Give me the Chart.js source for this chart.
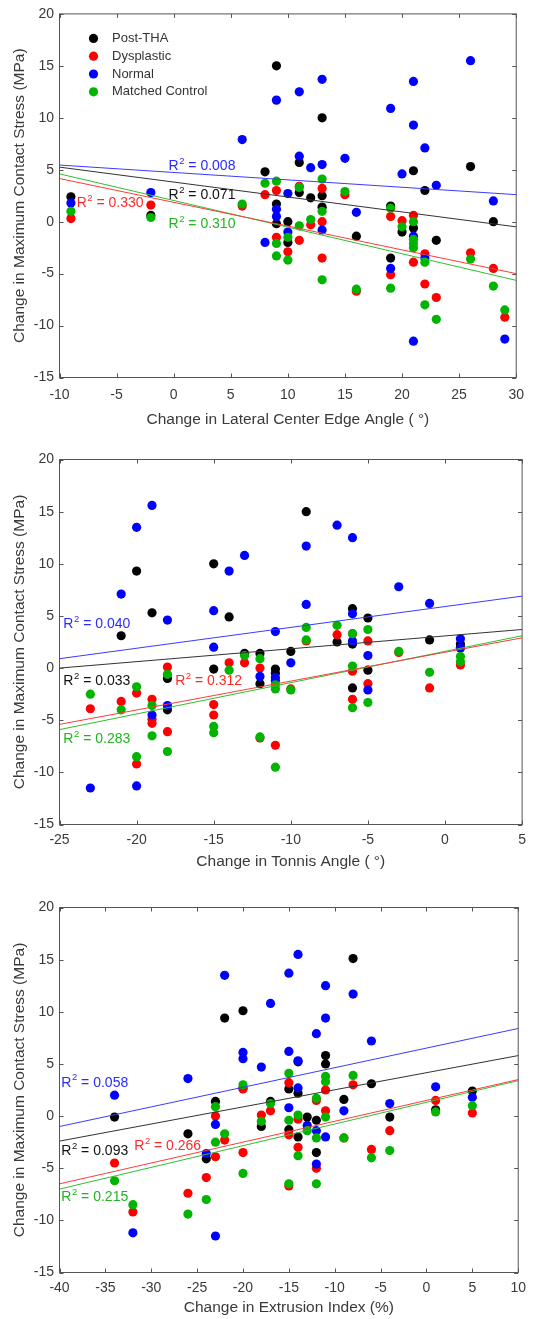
<!DOCTYPE html>
<html>
<head>
<meta charset="utf-8">
<script src="https://cdn.jsdelivr.net/npm/chart.js@4"></script>
<style>
  body { margin: 0; background: #fff; }
  #wrap { position: relative; width: 533px; height: 1319px; }
  canvas { position: absolute; left: 0; }
</style>
</head>
<body>
<div id="wrap">
  <canvas id="lceaChart" width="533" height="440" style="top:0px"></canvas>
  <canvas id="tonnisChart" width="533" height="440" style="top:440px"></canvas>
  <canvas id="extrusionChart" width="533" height="439" style="top:880px"></canvas>
</div>
<script>
Chart.defaults.font.family = '"Liberation Sans", Arial, sans-serif'
Chart.defaults.color = '#3a3a3a'

const groups = ['Post-THA', 'Dysplastic', 'Normal', 'Matched Control']
const groupColors = ['#000000', '#ff0000', '#0000ff', '#00b400']
const fitColors = ['#333333', '#ff3b3b', '#3b3bff', '#2fbf2f']
const textColors = ['#111111', '#ff2a2a', '#2a2aff', '#1fb51f']

const stressTicks = [-15, -10, -5, 0, 5, 10, 15, 20]
const lceaTicks = [-10, -5, 0, 5, 10, 15, 20, 25, 30]
const tonnisTicks = [-25, -20, -15, -10, -5, 0, 5]
const extrusionTicks = [-40, -35, -30, -25, -20, -15, -10, -5, 0, 5, 10]

// change in LCEA vs change in max contact stress
const lceaPostTHA = [[-9, 2.4], [-2, 0.6], [8, 4.8], [9, 15.0], [9, 1.7], [9, -0.2], [10, 0.0], [10, -2.0], [11, 5.7], [11, 2.8], [12, 2.3], [13, 10.0], [13, 2.5], [13, 1.4], [16, -1.4], [19, 1.5], [19, -3.5], [20, -1.0], [21, 4.9], [21, -0.6], [22, 3.0], [23, -1.8], [26, 5.3], [28, 0.0]]
const lceaDysplastic = [[-9, 0.3], [-2, 1.6], [6, 1.5], [8, 2.6], [9, 3.0], [9, -1.5], [10, -2.9], [11, 3.4], [11, -1.8], [12, -0.3], [13, 3.2], [13, 0.0], [13, -3.5], [15, 2.6], [16, -6.7], [19, 0.5], [19, -5.1], [20, 0.1], [21, 0.6], [21, -3.9], [22, -3.1], [22, -6.0], [23, -7.3], [26, -3.0], [28, -4.5], [29, -9.2]]
const lceaNormal = [[-9, 1.8], [-2, 2.8], [6, 7.9], [8, -2.0], [9, 11.7], [9, 1.2], [9, 0.5], [10, 2.7], [10, -1.0], [11, 12.5], [11, 6.3], [12, 5.2], [13, 13.7], [13, 5.5], [13, -0.8], [15, 6.1], [16, 0.9], [19, 10.9], [19, -4.5], [20, 4.6], [21, 13.5], [21, 9.3], [21, -1.4], [21, -11.5], [22, 7.1], [22, -3.5], [23, 3.5], [26, 15.5], [28, 2.0], [29, -11.3]]
const lceaMatched = [[-9, 1.0], [-2, 0.4], [6, 1.7], [8, 3.7], [9, 3.9], [9, -2.1], [9, -3.3], [10, -1.5], [10, -3.7], [11, 3.3], [11, -0.4], [12, 0.2], [13, 4.1], [13, 1.0], [13, -5.6], [15, 2.9], [16, -6.5], [19, 1.3], [19, -6.4], [20, -0.5], [21, 0.0], [21, -1.7], [21, -2.1], [21, -2.5], [22, -3.9], [22, -8.0], [23, -9.4], [26, -3.6], [28, -6.2], [29, -8.5]]
const lceaFits = [[5.25, -0.5], [4.15, -5.0], [5.45, 2.6], [4.6, -5.65]]
const lceaR2 = ['0.071', '0.330', '0.008', '0.310']

// change in Tonnis angle
const tonnisPostTHA = [[-21, 3.1], [-20, 9.3], [-19, 5.3], [-18, -1.0], [-18, -4.0], [-15, 10.0], [-15, -0.1], [-14, 4.9], [-13, 1.4], [-12, 1.4], [-12, -1.5], [-11, -0.1], [-11, -0.5], [-10, 1.6], [-9, 15.0], [-7, 2.5], [-6, 5.7], [-6, 2.3], [-6, -1.9], [-5, 4.8], [-5, -0.2], [-1, 2.7], [1, 2.3], [1, 2.0]]
const tonnisDysplastic = [[-23, -3.9], [-21, -3.2], [-20, -2.4], [-20, -9.2], [-19, -3.0], [-19, -4.9], [-19, -5.3], [-18, 0.1], [-18, -6.1], [-15, -3.5], [-15, -4.5], [-14, 0.5], [-13, 0.5], [-12, 0.0], [-12, -6.7], [-11, -7.4], [-10, -2.0], [-9, 2.6], [-7, 3.2], [-6, 3.3], [-6, -0.3], [-6, -3.0], [-5, 2.6], [-5, -1.5], [-3, 1.5], [-1, -1.9], [1, 0.3]]
const tonnisNormal = [[-23, -11.5], [-21, 7.1], [-20, 13.5], [-20, -11.3], [-19, 15.6], [-19, -4.5], [-18, 4.6], [-18, -3.6], [-15, 5.5], [-15, 2.0], [-14, 9.3], [-13, 10.8], [-12, -0.8], [-11, 3.5], [-11, -0.9], [-11, -1.2], [-10, 0.5], [-9, 11.7], [-9, 6.1], [-7, 13.7], [-6, 12.5], [-6, 5.2], [-6, 2.6], [-5, 1.2], [-5, -2.1], [-3, 7.8], [-1, 6.2], [1, 2.8], [1, 1.9]]
const tonnisMatched = [[-23, -2.5], [-21, -4.0], [-20, -1.8], [-20, -8.5], [-19, -3.6], [-19, -6.5], [-18, -0.6], [-18, -8.0], [-15, -5.6], [-15, -6.2], [-14, -0.2], [-13, 1.2], [-12, 0.9], [-12, -6.6], [-11, -1.6], [-11, -2.0], [-11, -9.5], [-10, -2.1], [-9, 3.9], [-9, 2.7], [-7, 4.1], [-6, 3.3], [-6, 0.2], [-6, -3.8], [-5, 3.7], [-5, -3.3], [-3, 1.6], [-1, -0.4], [1, 1.1], [1, 0.6]]
const tonnisFits = [[0.0, 3.7], [-5.4, 2.9], [0.9, 6.9], [-5.9, 3.1]]
const tonnisR2 = ['0.033', '0.312', '0.040', '0.283']

// change in extrusion index
const extrusionPostTHA = [[-34, -0.1], [-26, -1.7], [-24, -4.1], [-23, 1.4], [-22, 9.4], [-20, 10.1], [-20, 2.7], [-18, -1.0], [-17, 1.4], [-15, 2.6], [-15, -1.3], [-14, 5.2], [-14, 2.2], [-14, -2.0], [-13, -0.1], [-12, -0.4], [-12, -3.5], [-11, 5.8], [-11, 5.0], [-9, 1.6], [-8, 15.1], [-6, 3.1], [-4, -0.1], [1, 0.6], [5, 2.4]]
const extrusionDysplastic = [[-34, -4.5], [-32, -9.2], [-26, -7.4], [-24, -5.9], [-23, 0.0], [-23, -3.9], [-22, -2.3], [-20, 2.6], [-20, -3.5], [-18, 0.1], [-17, 0.5], [-15, 3.2], [-15, -1.8], [-15, -6.7], [-14, -0.3], [-14, -3.0], [-12, 1.5], [-12, -5.0], [-11, 2.5], [-11, 0.5], [-9, -2.1], [-8, 3.0], [-6, -3.2], [-4, -1.4], [1, 1.5], [5, 0.3]]
const extrusionNormal = [[-34, 2.0], [-32, -11.2], [-26, 3.6], [-24, -3.6], [-23, -0.8], [-23, -11.5], [-22, 13.5], [-20, 6.1], [-20, 5.5], [-18, 4.7], [-17, 10.8], [-15, 13.7], [-15, 6.2], [-15, 0.8], [-14, 15.5], [-14, 5.3], [-14, 2.7], [-13, -0.9], [-12, 7.9], [-12, -1.4], [-12, -4.6], [-11, 12.5], [-11, 9.4], [-11, -2.0], [-9, 0.5], [-8, 11.7], [-6, 7.2], [-4, 1.2], [1, 2.8], [5, 1.8]]
const extrusionMatched = [[-34, -6.2], [-32, -8.5], [-26, -9.4], [-24, -8.0], [-23, 0.9], [-23, -2.5], [-22, -1.7], [-20, 3.0], [-20, -5.5], [-18, -0.5], [-17, 1.2], [-15, 4.1], [-15, -0.4], [-15, -6.5], [-14, 0.1], [-14, -3.8], [-13, -1.4], [-12, 1.7], [-12, -2.1], [-12, -6.5], [-11, 3.8], [-11, 3.3], [-11, -0.1], [-9, -2.1], [-8, 3.9], [-6, -4.0], [-4, -3.3], [1, 0.4], [5, 1.0]]
const extrusionFits = [[-2.4, 5.8], [-6.5, 3.5], [-1.0, 8.4], [-7.0, 3.4]]
const extrusionR2 = ['0.093', '0.266', '0.058', '0.215']


const toPoints = pairs => pairs.map(([x, y]) => ({ x, y }))

const makeDatasets = (series, fits, xTicks) => {
    const xMin = xTicks[0]
    const xMax = xTicks[xTicks.length - 1]
    const points = series.map((pairs, i) => ({
        label: groups[i],
        data: toPoints(pairs),
        backgroundColor: groupColors[i],
        borderWidth: 0,
        pointRadius: 4.6,
        order: 4 - i
    }))
    const lines = fits.map((f, i) => ({
        label: groups[i] + ' fit',
        data: [{ x: xMin, y: f[0] }, { x: xMax, y: f[1] }],
        showLine: true,
        borderColor: fitColors[i],
        borderWidth: 1,
        pointRadius: 0,
        order: 0
    }))
    return [...points, ...lines]
}

// box with inward tick marks, R^2 labels and the legend, MATLAB style
const framePlugin = {
    id: 'frame',
    afterDatasetsDraw(chart, args, opts) {
        const { ctx, chartArea: a, scales: { x, y } } = chart
        ctx.save()
        ctx.strokeStyle = '#555'
        ctx.lineWidth = 1
        ctx.strokeRect(a.left, a.top, a.right - a.left, a.bottom - a.top)
        ctx.beginPath()
        x.ticks.forEach(t => {
            const px = Math.round(x.getPixelForValue(t.value)) + 0.5
            ctx.moveTo(px, a.bottom); ctx.lineTo(px, a.bottom - 4)
            ctx.moveTo(px, a.top); ctx.lineTo(px, a.top + 4)
        })
        y.ticks.forEach(t => {
            const py = Math.round(y.getPixelForValue(t.value)) + 0.5
            ctx.moveTo(a.left, py); ctx.lineTo(a.left + 4, py)
            ctx.moveTo(a.right, py); ctx.lineTo(a.right - 4, py)
        })
        ctx.stroke()

        ctx.textBaseline = 'middle'
        ctx.textAlign = 'left'
        opts.r2.forEach((txt, i) => {
            const [lx, ly] = opts.r2Pos[i]
            let px = x.getPixelForValue(lx)
            const py = y.getPixelForValue(ly)
            ctx.fillStyle = textColors[i]
            ctx.font = '14px "Liberation Sans", Arial, sans-serif'
            ctx.fillText('R', px, py)
            px += ctx.measureText('R').width + 0.5
            ctx.font = '9.5px "Liberation Sans", Arial, sans-serif'
            ctx.fillText('2', px, py - 5)
            px += ctx.measureText('2').width
            ctx.font = '14px "Liberation Sans", Arial, sans-serif'
            ctx.fillText(' = ' + txt, px, py)
        })

        if (opts.legend) {
            ctx.font = '13px "Liberation Sans", Arial, sans-serif'
            groups.forEach((g, i) => {
                const cy = a.top + 24.5 + i * 17.8
                ctx.fillStyle = groupColors[i]
                ctx.beginPath()
                ctx.arc(a.left + 34, cy, 4.6, 0, Math.PI * 2)
                ctx.fill()
                ctx.fillStyle = '#333'
                ctx.fillText(g, a.left + 52.5, cy)
            })
        }
        ctx.restore()
    }
}

const renderScatter = (id, cfg) => {
    const xTicks = cfg.xTicks
    const options = {
        responsive: false,
        animation: false,
        layout: { padding: { top: cfg.top, right: 9.5, bottom: 0, left: 0 } },
        plugins: {
            legend: { display: false },
            tooltip: { enabled: false },
            frame: { r2: cfg.r2, r2Pos: cfg.r2Pos, legend: cfg.legend }
        },
        scales: {
            x: {
                type: 'linear',
                min: xTicks[0],
                max: xTicks[xTicks.length - 1],
                afterBuildTicks: s => { s.ticks = xTicks.map(value => ({ value })) },
                afterFit: s => { s.height = cfg.xHeight },
                grid: { display: false, drawTicks: false },
                border: { display: false },
                ticks: { font: { size: 14 }, padding: cfg.tickPad, maxRotation: 0, autoSkip: false },
                title: { display: true, text: cfg.xTitle, font: { size: 15.5 }, padding: { top: 0, bottom: cfg.titlePad } }
            },
            y: {
                type: 'linear',
                min: stressTicks[0],
                max: stressTicks[stressTicks.length - 1],
                afterBuildTicks: s => { s.ticks = stressTicks.map(value => ({ value })) },
                afterFit: s => { s.width = 59.5 },
                grid: { display: false, drawTicks: false },
                border: { display: false },
                ticks: { font: { size: 14 }, padding: 5.5 },
                title: { display: true, text: 'Change in Maximum Contact Stress (MPa)', font: { size: 15.5 }, padding: { top: 10.7, bottom: 0 } }
            }
        }
    }
    new Chart(id, {
        type: 'scatter',
        data: { datasets: makeDatasets(cfg.series, cfg.fits, xTicks) },
        options,
        plugins: [framePlugin]
    })
}

renderScatter('lceaChart', {
    series: [lceaPostTHA, lceaDysplastic, lceaNormal, lceaMatched],
    fits: lceaFits,
    xTicks: lceaTicks,
    xTitle: 'Change in Lateral Center Edge Angle ( °)',
    r2: lceaR2,
    r2Pos: [[-0.45, 2.55], [-8.5, 1.75], [-0.45, 5.3], [-0.45, -0.25]],
    legend: true,
    top: 13.5, xHeight: 62.5, tickPad: 9, titlePad: 10.7
})

renderScatter('tonnisChart', {
    series: [tonnisPostTHA, tonnisDysplastic, tonnisNormal, tonnisMatched],
    fits: tonnisFits,
    xTicks: tonnisTicks,
    xTitle: 'Change in Tonnis Angle ( °)',
    r2: tonnisR2,
    r2Pos: [[-24.75, -1.3], [-17.5, -1.3], [-24.75, 4.2], [-24.75, -6.85]],
    legend: false,
    top: 19.5, xHeight: 55.5, tickPad: 7, titlePad: 8.7
})

renderScatter('extrusionChart', {
    series: [extrusionPostTHA, extrusionDysplastic, extrusionNormal, extrusionMatched],
    fits: extrusionFits,
    xTicks: extrusionTicks,
    xTitle: 'Change in Extrusion Index (%)',
    r2: extrusionR2,
    r2Pos: [[-39.8, -3.35], [-31.85, -2.9], [-39.8, 3.2], [-39.8, -7.75]],
    legend: false,
    top: 27.5, xHeight: 46.5, tickPad: 7, titlePad: 1.7
})
</script>
</body>
</html>
